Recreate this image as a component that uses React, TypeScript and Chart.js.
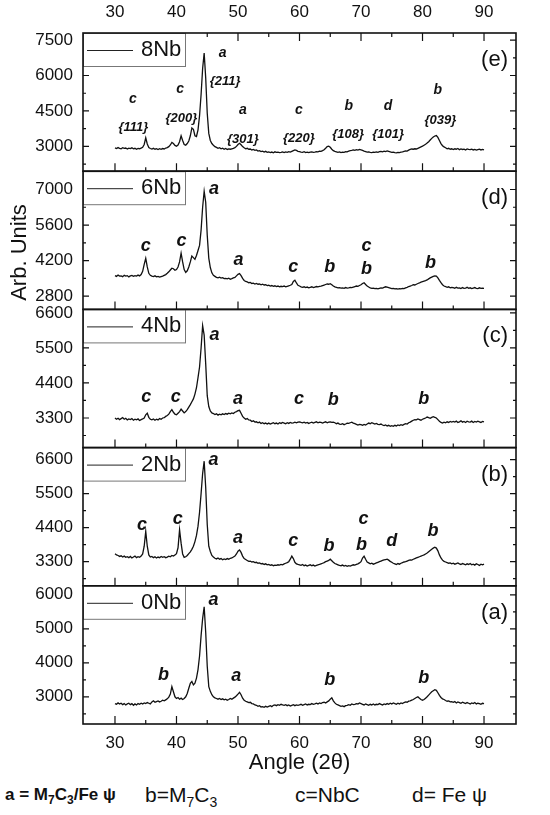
import React, { useEffect, useRef } from "react";
import { Chart, registerables } from "chart.js";

Chart.register(...registerables);

// ---------- data ----------
const ANGLE_START = 30;
const ANGLE_STEP = 0.25;

const xTickLabels = [30, 40, 50, 60, 70, 80, 90];
const xMinorTicks = [35, 45, 55, 65, 75, 85];
const xLimits = [24.8, 95.2];

const sampleNames = ["8Nb", "6Nb", "4Nb", "2Nb", "0Nb"];
const panelLetters = ["(e)", "(d)", "(c)", "(b)", "(a)"];

const yTicks8Nb = [3000, 4500, 6000, 7500];
const yMinor8Nb = [2250, 3750, 5250, 6750];
const yLimits8Nb = [1950, 7800];

const yTicks6Nb = [2800, 4200, 5600, 7000];
const yMinor6Nb = [3500, 4900, 6300];
const yLimits6Nb = [2280, 7720];

const yTicks4Nb = [3300, 4400, 5500, 6600];
const yMinor4Nb = [2750, 3850, 4950, 6050];
const yLimits4Nb = [2370, 6710];

const yTicks2Nb = [3300, 4400, 5500, 6600];
const yMinor2Nb = [2750, 3850, 4950, 6050];
const yLimits2Nb = [2520, 6990];

const yTicks0Nb = [3000, 4000, 5000, 6000];
const yMinor0Nb = [2500, 3500, 4500, 5500];
const yLimits0Nb = [2200, 6265];

// intensities, 30° to 90° every 0.25°
const intensity8Nb = [
  2940, 2910, 2950, 2920, 2900, 2945, 2915, 2930, 2890, 2925, 2905, 2940, 2895, 2920, 2880, 2915, 2900, 2930, 2960, 3080,
  3360, 3100, 2950, 2910, 2890, 2920, 2880, 2905, 2870, 2900, 2875, 2910, 2890, 2930, 2950, 2990, 3060, 3170, 3120, 3040,
  3010, 3060, 3200, 3450, 3250, 3080, 3050, 3120, 3230, 3450, 3780, 3720, 3450, 3420, 3700, 4300, 5200, 6300, 6950, 5900,
  4400, 3550, 3250, 3120, 3050, 2990, 2960, 2920, 2945, 2900, 2925, 2880, 2910, 2870, 2895, 2880, 2900, 2920, 2950, 3000,
  3080, 3130, 3070, 2990, 2940, 2900, 2920, 2880, 2890, 2850, 2870, 2830, 2850, 2800, 2820, 2780, 2800, 2760, 2790, 2750,
  2770, 2740, 2760, 2730, 2770, 2745, 2760, 2735, 2750, 2770, 2740, 2765, 2750, 2780, 2760, 2790, 2820, 2850, 2830, 2790,
  2780, 2760, 2750, 2775, 2740, 2760, 2735, 2755, 2770, 2745, 2760, 2780, 2770, 2800, 2790, 2820, 2860, 2920, 2990, 3010,
  2960, 2880, 2820, 2790, 2770, 2750, 2770, 2740, 2760, 2750, 2780, 2770, 2800, 2820, 2830, 2850, 2830, 2860, 2840, 2870,
  2850, 2830, 2800, 2780, 2760, 2770, 2750, 2740, 2760, 2745, 2770, 2750, 2780, 2790, 2770, 2800, 2780, 2810, 2790, 2770,
  2750, 2760, 2740, 2730, 2750, 2740, 2760, 2770, 2790, 2810, 2800, 2840, 2870, 2890, 2880, 2900, 2890, 2920, 2950, 2980,
  3010, 3050, 3090, 3140, 3200, 3270, 3340, 3400, 3440, 3460, 3380, 3250, 3120, 3030, 2980, 2940, 2900, 2920, 2880, 2900,
  2870, 2900, 2880, 2910, 2860, 2890, 2870, 2880, 2850, 2890, 2870, 2860, 2880, 2850, 2870, 2840, 2860, 2880, 2850, 2870,
  2850,
];

const intensity6Nb = [
  3610, 3580, 3630, 3590, 3600, 3570, 3620, 3590, 3610, 3560, 3600, 3620, 3580, 3610, 3590, 3630, 3600, 3650, 3780, 4050,
  4290, 3950, 3700, 3620, 3590, 3570, 3600, 3560, 3580, 3550, 3570, 3590, 3620, 3650, 3700, 3760, 3830, 3900, 3880, 3820,
  3850, 3950, 4150, 4490, 4150, 3850, 3740, 3800, 3950, 4150, 4380, 4320, 4250, 4400, 4600, 4800, 5400, 6300, 6930, 6500,
  5200, 4300, 3930, 3720, 3620, 3580, 3540, 3520, 3550, 3510, 3530, 3490, 3500, 3480, 3510, 3470, 3490, 3520, 3540, 3600,
  3660, 3690, 3610, 3500, 3420, 3380, 3360, 3330, 3340, 3300, 3310, 3280, 3300, 3270, 3280, 3250, 3270, 3240, 3250, 3220,
  3230, 3200, 3220, 3190, 3210, 3180, 3200, 3170, 3190, 3180, 3200, 3170, 3190, 3210, 3230, 3260, 3380, 3430, 3320, 3230,
  3200, 3170, 3150, 3170, 3140, 3160, 3130, 3150, 3170, 3140, 3160, 3180, 3170, 3190, 3200, 3220, 3240, 3260, 3280, 3270,
  3290, 3250, 3200, 3170, 3150, 3130, 3140, 3120, 3130, 3110, 3140, 3120, 3130, 3150, 3140, 3160, 3180, 3200, 3190, 3220,
  3250, 3300, 3330, 3260, 3200, 3160, 3130, 3110, 3120, 3100, 3110, 3090, 3110, 3130, 3120, 3150, 3170, 3160, 3140, 3120,
  3100, 3110, 3090, 3100, 3080, 3100, 3090, 3110, 3100, 3130, 3150, 3180, 3200, 3220, 3250, 3240, 3270, 3300, 3320, 3350,
  3370, 3390, 3410, 3440, 3480, 3520, 3550, 3580, 3600, 3590, 3520, 3420, 3330, 3250, 3200, 3180, 3150, 3170, 3130, 3150,
  3140, 3110, 3150, 3120, 3130, 3100, 3140, 3110, 3120, 3150, 3110, 3130, 3100, 3120, 3140, 3110, 3100, 3130, 3110, 3120,
  3110,
];

const intensity4Nb = [
  3300, 3260, 3290, 3250, 3280, 3310, 3260, 3290, 3240, 3270, 3250, 3280, 3230, 3260, 3240, 3270, 3220, 3250, 3270, 3300,
  3400, 3450, 3320, 3260, 3240, 3270, 3230, 3260, 3240, 3280, 3260, 3300, 3310, 3350, 3380, 3420, 3500, 3560, 3480, 3420,
  3400, 3450, 3500, 3580, 3520, 3460, 3500, 3560, 3640, 3720, 3810, 3900, 4050, 4250, 4570, 4900, 5500, 6200, 5900, 5000,
  4000, 3660, 3520, 3460, 3440, 3410, 3430, 3390, 3420, 3400, 3430, 3410, 3440, 3420, 3450, 3430, 3460, 3440, 3480, 3500,
  3530, 3540, 3450, 3350, 3300, 3260, 3280, 3240, 3230, 3190, 3210, 3170, 3180, 3150, 3170, 3130, 3150, 3120, 3140, 3110,
  3140, 3110, 3130, 3150, 3120, 3140, 3110, 3150, 3130, 3160, 3140, 3120, 3150, 3130, 3160, 3140, 3150, 3170, 3150, 3170,
  3180, 3160, 3150, 3170, 3140, 3160, 3130, 3150, 3170, 3140, 3160, 3180, 3150, 3170, 3160, 3140, 3160, 3180, 3150, 3170,
  3180, 3160, 3170, 3150, 3120, 3140, 3110, 3100, 3120, 3090, 3110, 3140, 3130, 3150, 3170, 3140, 3120, 3100, 3080, 3100,
  3090, 3070, 3100, 3080, 3110, 3140, 3120, 3150, 3130, 3110, 3130, 3100, 3090, 3110, 3080, 3060, 3080, 3050, 3070, 3040,
  3060, 3040, 3070, 3050, 3080, 3060, 3090, 3070, 3100, 3120, 3110, 3150, 3170, 3200, 3230, 3250, 3240, 3270, 3250, 3230,
  3260, 3280, 3300, 3330, 3310, 3290, 3320, 3340, 3320, 3300, 3250, 3200, 3160, 3140, 3170, 3150, 3180, 3160, 3190, 3170,
  3190, 3170, 3200, 3160, 3180, 3210, 3170, 3190, 3160, 3200, 3180, 3170, 3200, 3160, 3190, 3170, 3200, 3180, 3160, 3190,
  3180,
];

const intensity2Nb = [
  3560, 3520, 3500, 3470, 3490, 3450, 3480, 3440, 3460, 3430, 3470, 3420, 3450, 3480, 3430, 3460, 3440, 3480, 3550, 3800,
  4280, 3800, 3520, 3450, 3470, 3430, 3460, 3420, 3450, 3430, 3470, 3440, 3460, 3430, 3450, 3480, 3460, 3500, 3480, 3520,
  3560, 3750, 4330, 3900, 3550, 3440, 3460, 3500, 3560, 3620, 3700, 3800, 3950, 4150, 4450, 4900, 5500, 6150, 6550, 5700,
  4500, 3800, 3630, 3500, 3450, 3410, 3390, 3420, 3380, 3400, 3360, 3390, 3370, 3400, 3380, 3410, 3420, 3450, 3480, 3550,
  3640, 3680, 3600, 3480, 3400, 3370, 3340, 3310, 3320, 3290, 3300, 3270, 3280, 3250, 3260, 3230, 3240, 3210, 3230, 3200,
  3210, 3180, 3200, 3170, 3190, 3180, 3200, 3190, 3210, 3200, 3230, 3250, 3270, 3300, 3380, 3480, 3400, 3280, 3230, 3210,
  3200, 3180, 3210, 3170, 3190, 3160, 3180, 3200, 3170, 3190, 3160, 3180, 3200, 3210, 3230, 3250, 3270, 3300, 3320, 3340,
  3380, 3330, 3280, 3240, 3220, 3200, 3180, 3170, 3190, 3160, 3180, 3150, 3170, 3160, 3180, 3200, 3190, 3210, 3230, 3260,
  3300, 3420, 3480, 3380, 3290, 3260, 3230, 3250, 3220, 3240, 3260, 3280, 3300, 3320, 3340, 3360, 3370, 3380, 3350, 3310,
  3280, 3250, 3230, 3210, 3240, 3220, 3250, 3270, 3290, 3300, 3320, 3340, 3360, 3350, 3380, 3400, 3420, 3440, 3460, 3480,
  3500, 3520, 3550, 3580, 3620, 3660, 3700, 3740, 3770, 3740, 3650, 3520, 3420, 3350, 3310, 3290, 3270, 3250, 3260, 3230,
  3250, 3220, 3240, 3260, 3230, 3210, 3240, 3220, 3200, 3230, 3210, 3240, 3200, 3220, 3190, 3230, 3210, 3180, 3220, 3200,
  3220,
];

const intensity0Nb = [
  2800, 2780, 2820, 2790, 2810, 2770, 2800, 2760, 2790, 2810, 2770, 2800, 2750, 2790, 2760, 2800, 2780, 2810, 2790, 2820,
  2800, 2830, 2810, 2790, 2850, 2880, 2840, 2860, 2880, 2850, 2870, 2900, 2880, 2910, 2940, 2990, 3080, 3300, 3150, 3000,
  2950, 2980, 2930, 2960, 2920, 2950, 3000, 3100, 3250, 3400, 3450, 3350, 3400, 3550, 3800, 4200, 4800, 5300, 5650, 4900,
  3900, 3300, 3160, 3060, 3000, 2970, 2950, 2930, 2950, 2920, 2940, 2910, 2930, 2900, 2920, 2950, 2930, 2960, 2990, 3030,
  3080, 3130, 3060, 2960, 2900, 2870, 2850, 2830, 2840, 2800, 2790, 2760, 2750, 2720, 2740, 2700, 2710, 2690, 2720, 2700,
  2720, 2740, 2710, 2750, 2760, 2740, 2770, 2750, 2780, 2760, 2750, 2770, 2740, 2760, 2730, 2750, 2770, 2740, 2760, 2750,
  2760, 2780, 2750, 2770, 2790, 2760, 2780, 2770, 2800, 2780, 2790, 2810, 2790, 2820, 2800, 2830, 2840, 2820, 2850, 2880,
  2930, 2970, 2880, 2820, 2780, 2760, 2740, 2720, 2730, 2710, 2740, 2750, 2770, 2750, 2790, 2770, 2780, 2800, 2790, 2820,
  2800, 2780, 2760, 2790, 2770, 2750, 2780, 2760, 2790, 2760, 2780, 2770, 2800, 2780, 2760, 2790, 2770, 2800, 2780, 2810,
  2790, 2820, 2800, 2780, 2810, 2790, 2820, 2800, 2830, 2850, 2840, 2870, 2880, 2900, 2920, 2950, 2980, 3000, 2960, 2920,
  2900, 2920, 2960, 3000, 3050, 3100, 3150, 3180, 3210, 3190, 3120, 3040, 2980, 2940, 2920, 2890, 2870, 2880, 2850, 2860,
  2840, 2860, 2820, 2850, 2830, 2810, 2840, 2820, 2800, 2830, 2810, 2790, 2820, 2800, 2830, 2790, 2810, 2800, 2780, 2810,
  2800,
];

// peak labels: [text, angle, intensity]
const peaks8Nb = [
  ["c", 32.9, 5020], ["c", 40.6, 5430], ["a", 47.5, 6940], ["a", 50.8, 4530],
  ["c", 59.9, 4530], ["b", 68.0, 4720], ["d", 74.4, 4720], ["b", 82.5, 5400],
];
const planes8Nb = [
  ["{111}", 33.0, 3810], ["{200}", 40.8, 4180], ["{211}", 47.9, 5750], ["{301}", 50.8, 3290],
  ["{220}", 59.9, 3320], ["{108}", 67.9, 3500], ["{101}", 74.4, 3500], ["{039}", 82.9, 4110],
];
const peaks6Nb = [
  ["c", 35.0, 4760], ["c", 40.8, 4970], ["a", 46.1, 7000], ["a", 50.1, 4230], ["c", 59.0, 3930],
  ["b", 64.9, 3930], ["c", 70.9, 4760], ["b", 70.9, 3870], ["b", 81.3, 4090],
];
const peaks4Nb = [
  ["c", 35.1, 3960], ["c", 39.9, 3960], ["a", 46.2, 5920], ["a", 50.0, 3910],
  ["c", 59.9, 3890], ["b", 65.5, 3860], ["b", 80.2, 3880],
];
const peaks2Nb = [
  ["c", 34.4, 4500], ["c", 40.2, 4680], ["a", 46.0, 6600], ["a", 50.0, 4070], ["c", 59.0, 3960],
  ["b", 64.8, 3820], ["c", 70.4, 4680], ["b", 70.1, 3850], ["d", 75.0, 3960], ["b", 81.7, 4280],
];
const peaks0Nb = [
  ["b", 37.9, 3650], ["a", 46.0, 5850], ["a", 49.7, 3620], ["b", 64.9, 3480], ["b", 80.2, 3540],
];

// ---------- chart ----------
const FONT = "'Liberation Sans', Arial, Helvetica, sans-serif";
const INK = "#111";

const panels = [
  { id: "yE", name: sampleNames[0], letter: panelLetters[0], values: intensity8Nb, ticks: yTicks8Nb, minor: yMinor8Nb, limits: yLimits8Nb, peaks: peaks8Nb, planes: planes8Nb, small: true },
  { id: "yD", name: sampleNames[1], letter: panelLetters[1], values: intensity6Nb, ticks: yTicks6Nb, minor: yMinor6Nb, limits: yLimits6Nb, peaks: peaks6Nb, planes: [], small: false },
  { id: "yC", name: sampleNames[2], letter: panelLetters[2], values: intensity4Nb, ticks: yTicks4Nb, minor: yMinor4Nb, limits: yLimits4Nb, peaks: peaks4Nb, planes: [], small: false },
  { id: "yB", name: sampleNames[3], letter: panelLetters[3], values: intensity2Nb, ticks: yTicks2Nb, minor: yMinor2Nb, limits: yLimits2Nb, peaks: peaks2Nb, planes: [], small: false },
  { id: "yA", name: sampleNames[4], letter: panelLetters[4], values: intensity0Nb, ticks: yTicks0Nb, minor: yMinor0Nb, limits: yLimits0Nb, peaks: peaks0Nb, planes: [], small: false },
];

const framePlugin = {
  id: "panelFrames",
  afterDatasetsDraw(chart: any) {
    const { ctx, chartArea: a } = chart;
    const xs = chart.scales.x;
    ctx.save();
    panels.forEach((p, i) => {
      const s = chart.scales[p.id];
      const top = s.top;
      const bottom = s.bottom;
      // ticks
      ctx.strokeStyle = INK;
      ctx.lineWidth = 1.2;
      ctx.beginPath();
      xTickLabels.forEach((v) => {
        const px = xs.getPixelForValue(v);
        ctx.moveTo(px, bottom);
        ctx.lineTo(px, bottom - 8);
        if (i === 0) {
          ctx.moveTo(px, top);
          ctx.lineTo(px, top + 8);
        }
      });
      xMinorTicks.forEach((v) => {
        const px = xs.getPixelForValue(v);
        ctx.moveTo(px, bottom);
        ctx.lineTo(px, bottom - 4);
        if (i === 0) {
          ctx.moveTo(px, top);
          ctx.lineTo(px, top + 4);
        }
      });
      p.ticks.forEach((v) => {
        const py = s.getPixelForValue(v);
        ctx.moveTo(a.left, py);
        ctx.lineTo(a.left + 6, py);
        ctx.moveTo(a.right, py);
        ctx.lineTo(a.right - 6, py);
      });
      p.minor.forEach((v) => {
        const py = s.getPixelForValue(v);
        ctx.moveTo(a.left, py);
        ctx.lineTo(a.left + 3, py);
        ctx.moveTo(a.right, py);
        ctx.lineTo(a.right - 3, py);
      });
      ctx.stroke();

      // legend box
      ctx.fillStyle = "#fff";
      ctx.fillRect(a.left, top, 102, 33);
      ctx.strokeStyle = "#777";
      ctx.lineWidth = 1;
      ctx.strokeRect(a.left + 0.5, top + 0.5, 102, 33);
      ctx.strokeStyle = "#222";
      ctx.beginPath();
      ctx.moveTo(a.left + 4, top + 17.5);
      ctx.lineTo(a.left + 50, top + 17.5);
      ctx.stroke();
      ctx.fillStyle = INK;
      ctx.font = `22px ${FONT}`;
      ctx.textAlign = "left";
      ctx.textBaseline = "middle";
      ctx.fillText(p.name, a.left + 58, top + 17);

      // panel letter
      ctx.textAlign = "right";
      ctx.fillText(p.letter, a.right - 8, top + 27);

      // peak labels
      ctx.textAlign = "center";
      ctx.font = `italic bold ${p.small ? 14 : 18}px ${FONT}`;
      p.peaks.forEach((pk: any) => {
        ctx.fillText(pk[0], xs.getPixelForValue(pk[1]), s.getPixelForValue(pk[2]));
      });
      ctx.font = `italic bold 13px ${FONT}`;
      p.planes.forEach((pk: any) => {
        ctx.fillText(pk[0], xs.getPixelForValue(pk[1]), s.getPixelForValue(pk[2]));
      });

      // frame
      ctx.strokeStyle = INK;
      ctx.lineWidth = 1.6;
      ctx.strokeRect(a.left, top, a.right - a.left, bottom - top);
    });
    ctx.restore();
  },
};

export default function App() {
  const canvasRef = useRef<HTMLCanvasElement | null>(null);

  useEffect(() => {
    if (!canvasRef.current) return;
    const angles = intensity8Nb.map((_, i) => ANGLE_START + i * ANGLE_STEP);

    const scales: any = {
      x: {
        type: "linear",
        position: "bottom",
        min: xLimits[0],
        max: xLimits[1],
        afterBuildTicks: (s: any) => {
          s.ticks = xTickLabels.map((v) => ({ value: v }));
        },
        afterFit: (s: any) => {
          s.height = 56;
        },
        grid: { display: false, drawTicks: false },
        border: { display: false },
        ticks: {
          padding: 9,
          color: INK,
          font: { family: FONT, size: 17 },
          callback: (v: any) => String(v),
          maxRotation: 0,
        },
        title: {
          display: true,
          text: "Angle (2θ)",
          color: INK,
          font: { family: FONT, size: 22 },
          padding: { top: 0, bottom: 4 },
        },
      },
      x2: {
        type: "linear",
        position: "top",
        min: xLimits[0],
        max: xLimits[1],
        afterBuildTicks: (s: any) => {
          s.ticks = xTickLabels.map((v) => ({ value: v }));
        },
        afterFit: (s: any) => {
          s.height = 33;
        },
        grid: { display: false, drawTicks: false },
        border: { display: false },
        ticks: {
          padding: 10,
          color: INK,
          font: { family: FONT, size: 17 },
          callback: (v: any) => String(v),
          maxRotation: 0,
        },
      },
    };

    // stacked left axes are laid out last-defined on top, so define bottom panel first
    [...panels].reverse().forEach((p) => {
      scales[p.id] = {
        type: "linear",
        position: "left",
        stack: "panels",
        stackWeight: 1,
        offset: false,
        min: p.limits[0],
        max: p.limits[1],
        afterBuildTicks: (s: any) => {
          s.ticks = p.ticks.map((v) => ({ value: v }));
        },
        afterFit: (s: any) => {
          s.width = 83;
        },
        grid: { display: false, drawTicks: false },
        border: { display: false },
        ticks: {
          padding: 10,
          color: INK,
          font: { family: FONT, size: 17 },
          callback: (v: any) => String(v),
        },
        title: {
          display: p.id === "yD",
          text: "Arb. Units    ",
          color: INK,
          font: { family: FONT, size: 22 },
          padding: { top: 7, bottom: 0 },
        },
      };
    });

    const chart = new Chart(canvasRef.current, {
      type: "line",
      data: {
        datasets: panels.map((p) => ({
          label: p.name,
          data: p.values.map((v, i) => ({ x: angles[i], y: v })),
          xAxisID: "x",
          yAxisID: p.id,
          borderColor: "#111",
          borderWidth: 1.3,
          pointRadius: 0,
          tension: 0,
          fill: false,
        })),
      },
      options: {
        animation: false,
        responsive: false,
        maintainAspectRatio: false,
        parsing: true,
        layout: { padding: { left: 0, right: 34, top: 0, bottom: 0 } },
        plugins: {
          legend: { display: false },
          tooltip: { enabled: false },
        },
        scales,
      },
      plugins: [framePlugin],
    });
    return () => chart.destroy();
  }, []);

  const legendStyle: React.CSSProperties = {
    position: "absolute",
    top: 783,
    fontFamily: FONT,
    color: INK,
    whiteSpace: "nowrap",
    lineHeight: "24px",
  };

  return (
    <div style={{ position: "absolute", left: 0, top: 0, width: 550, height: 815, background: "#fff" }}>
      <canvas ref={canvasRef} width={550} height={780} style={{ display: "block", width: 550, height: 780 }} />
      <div style={{ ...legendStyle, left: 5, fontSize: 17, fontWeight: "bold" }}>
        a = M<sub style={{ fontSize: 12 }}>7</sub>C<sub style={{ fontSize: 12 }}>3</sub>/Fe ψ
      </div>
      <div style={{ ...legendStyle, left: 145, fontSize: 21 }}>
        b=M<sub style={{ fontSize: 14 }}>7</sub>C<sub style={{ fontSize: 14 }}>3</sub>
      </div>
      <div style={{ ...legendStyle, left: 295, fontSize: 21 }}>c=NbC</div>
      <div style={{ ...legendStyle, left: 412, fontSize: 21 }}>d= Fe ψ</div>
    </div>
  );
}
